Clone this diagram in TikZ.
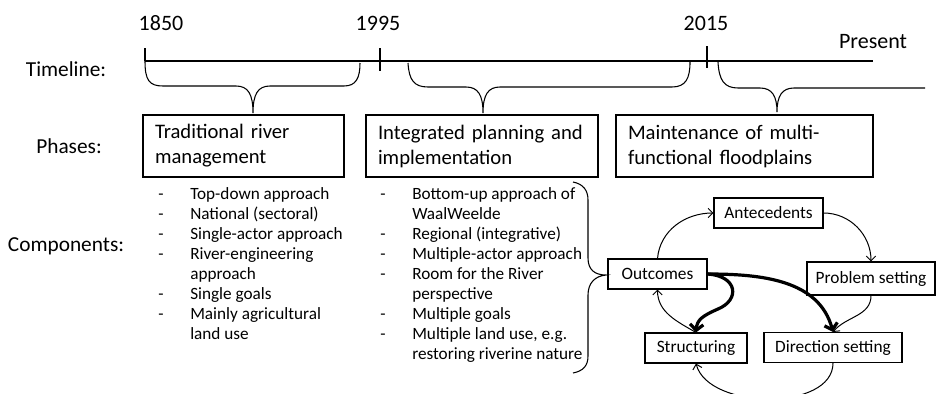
\documentclass[tikz,border=0pt]{standalone}
\usepackage{fontspec}
\setmainfont{Carlito}
\usepackage{tikz}
\usetikzlibrary{arrows.meta, positioning}

\begin{document}
\begin{tikzpicture}[x=0.75pt, y=-0.75pt,
            rowlabel/.style={font=\fontsize{16}{19}\selectfont},
            yearlbl/.style={font=\fontsize{16.5}{19}\selectfont},
            phase/.style={draw, rectangle, line width=1pt, minimum height=46.5pt, inner xsep=9pt, align=left, font=\fontsize{15.5}{18.75}\selectfont},
            items/.style={anchor=base west, inner sep=0pt, font=\fontsize{12.9}{15}\selectfont},
            cyc/.style={draw, rectangle, line width=0.8pt, minimum height=22.5pt, inner sep=2pt, font=\fontsize{13}{15}\selectfont},
            cycarrow/.style={-{Straight Barb[length=3.5pt,width=7pt]}, line width=0.75pt},
            boldarrow/.style={-{Straight Barb[length=4.5pt,width=10pt]}, line width=2.4pt}]
            \useasboundingbox (0,0) rectangle (937,393);

            % row labels
            \node[rowlabel] (timelinelbl) at (66,69) {Timeline:};
            \node[rowlabel] (phaseslbl) at (69,146) {Phases:};
            \node[rowlabel] (complbl) at (66,246) {Components:};

            % timeline
            \node[yearlbl] (y1850) at (161,23) {1850};
            \node[yearlbl] (y1995) at (378,23) {1995};
            \node[yearlbl] (y2015) at (706,23) {2015};
            \node[yearlbl] (present) at (873,42) {Present};
            \draw[line width=0.8pt] (145,61) -- (873,61);
            \draw[line width=0.8pt] (145,48) -- (145,61);
            \draw[line width=0.8pt] (380,48) -- (380,71);
            \draw[line width=0.8pt] (707,46) -- (707,68);

            % braces under the timeline
            \draw[line width=0.8pt] (145,61) .. controls (145,80) and (149,86) .. (163,86) -- (236,86)
                .. controls (248,86) and (253,94) .. (253,113)
                .. controls (253,94) and (258,86) .. (270,86) -- (344,86)
                .. controls (356,86) and (360,78) .. (360,63);
            \draw[line width=0.8pt] (408,63) .. controls (409,80) and (414,87) .. (428,87) -- (466,87)
                .. controls (478,87) and (483,95) .. (483,113)
                .. controls (483,95) and (488,87) .. (500,87) -- (672,87)
                .. controls (686,87) and (690,78) .. (690,62);
            \draw[line width=0.8pt] (718,62) .. controls (719,80) and (724,88) .. (738,88) -- (760,88)
                .. controls (772,88) and (777,96) .. (777,112)
                .. controls (777,96) and (782,88) .. (794,88) -- (925,88);

            % phases
            \node[phase, text width=132.75pt] (trad) at (243.5,146) {Traditional river\\management};
            \node[phase, text width=156pt] (integ) at (482,146) {Integrated planning and\\implementation};
            \node[phase, text width=174.75pt] (maint) at (744.5,146) {Maintenance of multi-\\functional floodplains};

            % components
            \node[items] (list1) at (158,199) {\begin{tabular}[t]{@{}p{24pt}@{}l@{}}
                -&Top-down approach\\
                -&National (sectoral)\\
                -&Single-actor approach\\
                -&River-engineering\\
                 &approach\\
                -&Single goals\\
                -&Mainly agricultural\\
                 &land use
            \end{tabular}};
            \node[items] (list2) at (380,199) {\begin{tabular}[t]{@{}p{24pt}@{}l@{}}
                -&Bottom-up approach of\\
                 &WaalWeelde\\
                -&Regional (integrative)\\
                -&Multiple-actor approach\\
                -&Room for the River\\
                 &perspective\\
                -&Multiple goals\\
                -&Multiple land use, e.g.\\
                 &restoring riverine nature
            \end{tabular}};
            \draw[line width=0.8pt] (573,182) .. controls (583,184) and (588,190) .. (588,200) -- (588,258)
                .. controls (588,270) and (595,275) .. (606,275)
                .. controls (595,276) and (588,283) .. (588,295) -- (588,356)
                .. controls (588,366) and (583,371) .. (573,373);

            % cycle
            \node[cyc, minimum width=74.25pt] (outc) at (657.5,274) {Outcomes};
            \node[cyc, minimum width=81.75pt] (ante) at (768.5,213) {Antecedents};
            \node[cyc, minimum width=96pt, minimum height=24.75pt] (prob) at (871,278.5) {Problem setting};
            \node[cyc, minimum width=76.5pt] (struc) at (696,348) {Structuring};
            \node[cyc, minimum width=103.5pt] (direc) at (833,347.5) {Direction setting};

            \draw[cycarrow] (outc.north) to[out=85, in=180] (ante.west);
            \draw[cycarrow] (ante.east) to[out=0, in=90] (prob.north);
            \draw[cycarrow] (prob.south) to[out=-90, in=50] (direc.north);
            \draw[cycarrow] (direc.south) to[out=-90, in=-75, looseness=0.9] (struc.south);
            \draw[cycarrow] (struc.north) to[out=150, in=-90] (outc.south);

            \coordinate (bend) at (718,309);
            \draw[boldarrow] (outc.east) .. controls (738,276) and (740,300) .. (bend)
                .. controls (702,316) and (697,320) .. (struc.north);
            \draw[boldarrow] (outc.east) to[out=0, in=105] (direc.north);
        \end{tikzpicture}
\end{document}
